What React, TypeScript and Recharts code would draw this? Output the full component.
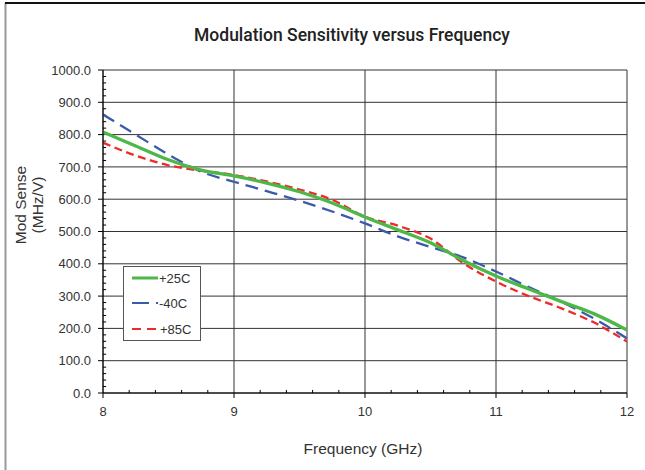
import React from 'react';
import { LineChart, Line, XAxis, YAxis, CartesianGrid, ReferenceLine, Legend } from 'recharts';

const frequency = [8, 8.25, 8.5, 8.75, 9, 9.25, 9.5, 9.75, 10, 10.25, 10.5, 10.75, 11, 11.25, 11.5, 11.75, 12];
const plus25C = [808, 765, 722, 690, 672, 650, 623, 588, 545, 505, 465, 410, 362, 322, 283, 245, 195];
const minus40C = [862, 800, 738, 685, 654, 625, 595, 562, 525, 485, 452, 420, 376, 328, 282, 230, 169];
const plus85C = [775, 735, 705, 688, 675, 655, 630, 598, 546, 518, 478, 402, 345, 300, 262, 218, 159];

const xTicks = [8, 9, 10, 11, 12];
const yTicks = [0, 100, 200, 300, 400, 500, 600, 700, 800, 900, 1000];
const xMinor = [8.2, 8.4, 8.6, 8.8, 9.2, 9.4, 9.6, 9.8, 10.2, 10.4, 10.6, 10.8, 11.2, 11.4, 11.6, 11.8];
const yMinor = [20, 40, 60, 80, 120, 140, 160, 180, 220, 240, 260, 280, 320, 340, 360, 380, 420, 440, 460, 480,
  520, 540, 560, 580, 620, 640, 660, 680, 720, 740, 760, 780, 820, 840, 860, 880, 920, 940, 960, 980];

const GREEN = '#4DB848';
const BLUE = '#3B5BA8';
const RED = '#EE2B2B';

const data = frequency.map((f, i) => ({ f, p25: plus25C[i], m40: minus40C[i], p85: plus85C[i] }));

const FONT = '"Liberation Sans", Arial, sans-serif';

const LegendBox = () => (
  <div style={{ width: 78, height: 75, background: '#fff' }}>
    <svg width={78} height={75} style={{ display: 'block' }}>
      <rect x={0.5} y={0.5} width={77} height={74} fill="#fff" stroke="#555" strokeWidth={1} />
      <line x1={9} y1={12} x2={35} y2={12} stroke={GREEN} strokeWidth={3} />
      <text x={36} y={12} dominantBaseline="central" fontFamily={FONT} fontSize={13} fill="#333">+25C</text>
      <line x1={9} y1={37} x2={35} y2={37} stroke={BLUE} strokeWidth={2.2} strokeDasharray="17 7 2 100" />
      <text x={36} y={37} dominantBaseline="central" fontFamily={FONT} fontSize={13} fill="#333">-40C</text>
      <line x1={9} y1={63} x2={35} y2={63} stroke={RED} strokeWidth={2.2} strokeDasharray="9 6 9 100" />
      <text x={37} y={63} dominantBaseline="central" fontFamily={FONT} fontSize={13} fill="#333">+85C</text>
    </svg>
  </div>
);

export default function App() {
  return (
    <div style={{ position: 'absolute', left: 0, top: 0, width: 645, height: 470, background: '#fff' }}>
      <svg width={645} height={470} style={{ position: 'absolute', left: 0, top: 0 }}>
        <line x1={5.5} y1={3} x2={5.5} y2={470} stroke="#999" strokeWidth={2} />
        <line x1={5} y1={3} x2={645} y2={3} stroke="#111" strokeWidth={2} />
        <text x={352} y={35} textAnchor="middle" dominantBaseline="central" fontFamily="Roboto, sans-serif" fontWeight={500} fontSize={17.5} fill="#222">
          Modulation Sensitivity versus Frequency
        </text>
        <text transform="translate(20,205) rotate(-90)" textAnchor="middle" dominantBaseline="central" fontFamily={FONT} fontSize={15.5} fill="#333">Mod Sense</text>
        <text transform="translate(37,205) rotate(-90)" textAnchor="middle" dominantBaseline="central" fontFamily={FONT} fontSize={15.5} fill="#333">(MHz/V)</text>
        <text x={363} y={448} textAnchor="middle" dominantBaseline="central" fontFamily={FONT} fontSize={15.5} fill="#333">Frequency (GHz)</text>
      </svg>
      <div style={{ position: 'absolute', left: 0, top: 0 }}>
        <LineChart width={645} height={470} data={data} margin={{ top: 70, right: 18, bottom: 0, left: 0 }}>
          <CartesianGrid stroke="#333" strokeWidth={1} />
          <XAxis
            dataKey="f"
            type="number"
            domain={[8, 12]}
            ticks={xTicks}
            height={77}
            tickSize={5}
            tickMargin={9}
            axisLine={{ stroke: '#000' }}
            tickLine={{ stroke: '#000' }}
            tick={{ fontFamily: FONT, fontSize: 13, fill: '#333' }}
            allowDataOverflow
          />
          <YAxis
            type="number"
            domain={[0, 1000]}
            ticks={yTicks}
            width={103}
            tickSize={5}
            tickMargin={7}
            axisLine={{ stroke: '#000' }}
            tickLine={{ stroke: '#000' }}
            tickFormatter={(v: number) => v.toFixed(1)}
            tick={{ fontFamily: FONT, fontSize: 13, fill: '#333' }}
            allowDataOverflow
          />
          {xMinor.map((x) => (
            <ReferenceLine key={'xm' + x} segment={[{ x, y: 0 }, { x, y: 9.5 }]} stroke="#000" strokeWidth={1} />
          ))}
          {yMinor.map((y) => (
            <ReferenceLine key={'ym' + y} segment={[{ x: 8, y }, { x: 8.024, y }]} stroke="#000" strokeWidth={1} />
          ))}
          <Line type="monotone" dataKey="m40" stroke={BLUE} strokeWidth={2.3} strokeDasharray="13 7" dot={false} isAnimationActive={false} />
          <Line type="monotone" dataKey="p85" stroke={RED} strokeWidth={2.3} strokeDasharray="8 4.5" dot={false} isAnimationActive={false} />
          <Line type="monotone" dataKey="p25" stroke={GREEN} strokeWidth={3.3} dot={false} isAnimationActive={false} />
          <Legend
            layout="vertical"
            align="center"
            verticalAlign="middle"
            content={() => <LegendBox />}
            wrapperStyle={{ left: 123, top: 266, width: 78, height: 75 }}
          />
        </LineChart>
      </div>
    </div>
  );
}
